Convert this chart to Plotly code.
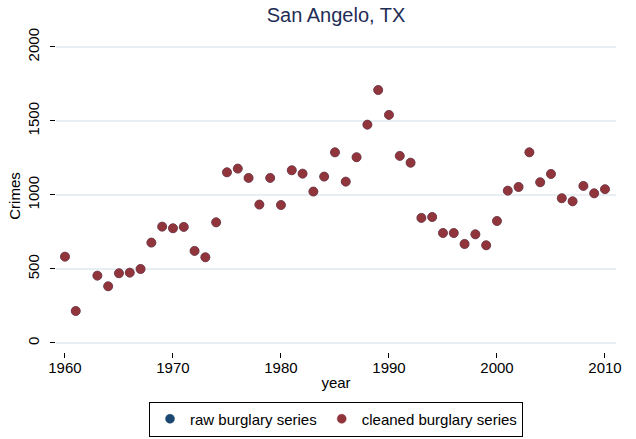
import plotly.graph_objects as go

# --- data ---
years = [1960, 1961, 1963, 1964, 1965, 1966, 1967, 1968, 1969, 1970,
         1971, 1972, 1973, 1974, 1975, 1976, 1977, 1978, 1979, 1980,
         1981, 1982, 1983, 1984, 1985, 1986, 1987, 1988, 1989, 1990,
         1991, 1992, 1993, 1994, 1995, 1996, 1997, 1998, 1999, 2000,
         2001, 2002, 2003, 2004, 2005, 2006, 2007, 2008, 2009, 2010]

cleaned = [583, 216, 455, 383, 471, 475, 500, 678, 786, 775,
           784, 622, 579, 815, 1153, 1178, 1115, 935, 1115, 932,
           1167, 1144, 1023, 1124, 1288, 1090, 1255, 1475, 1709, 1541,
           1264, 1218, 845, 851, 743, 743, 669, 734, 660, 824,
           1029, 1054, 1288, 1086, 1142, 978, 957, 1061, 1011, 1039]

# raw series sits underneath the cleaned one in the picture
raw = [583, 216, 455, 383, 471, 475, 500, 678, 786, 775,
       784, 622, 579, 815, 1153, 1178, 1115, 935, 1115, 932,
       1167, 1144, 1023, 1124, 1288, 1090, 1255, 1475, 1709, 1541,
       1264, 1218, 845, 851, 743, 743, 669, 734, 660, 824,
       1029, 1054, 1288, 1086, 1142, 978, 957, 1061, 1011, 1039]

x_ticks = [1960, 1970, 1980, 1990, 2000, 2010]
y_ticks = [0, 500, 1000, 1500, 2000]

navy = "#1a476f"
maroon = "#90353b"
font = "Liberation Sans, Arial, sans-serif"

fig = go.Figure()
fig.add_trace(go.Scatter(
    x=years, y=raw, mode="markers", name="raw burglary series",
    marker=dict(color=navy, size=9, line=dict(width=0.5, color=navy)),
))
fig.add_trace(go.Scatter(
    x=years, y=cleaned, mode="markers", name="cleaned burglary series",
    marker=dict(color=maroon, size=9, line=dict(width=0.5, color=maroon)),
))

fig.update_layout(
    width=636, height=439,
    margin=dict(l=56, r=20, t=40, b=87),
    paper_bgcolor="white", plot_bgcolor="white",
    font=dict(family=font, color="black", size=15),
    title=dict(text="San Angelo, TX", x=0.5, xref="paper", xanchor="center",
               y=1 - 15 / 439, yref="container", yanchor="middle",
               font=dict(size=20, color="#1f2d56", family=font)),
    showlegend=True,
    legend=dict(orientation="h", x=0.5, xanchor="center", xref="paper",
                y=1 - 419 / 439, yref="container", yanchor="middle",
                bordercolor="black", borderwidth=1, bgcolor="white",
                font=dict(size=15, family=font), itemwidth=30,
                traceorder="normal"),
)

fig.update_xaxes(
    range=[1959.17, 2011.02], tickvals=x_ticks,
    showgrid=False, zeroline=False, showline=False, automargin=False,
    ticks="outside", ticklen=5, tickcolor="black", tickwidth=1,
    tickfont=dict(size=15), ticklabelstandoff=-3,
    title=dict(text="year", font=dict(size=15), standoff=2),
)
fig.update_yaxes(
    range=[-61, 2047], tickvals=y_ticks,
    showgrid=True, gridcolor="#e8eff2", gridwidth=1.5,
    zeroline=False, showline=False, automargin=False,
    ticks="outside", ticklen=5, tickcolor="black", tickwidth=1,
    tickangle=-90, tickfont=dict(size=15), ticklabelstandoff=5,
    title=dict(text="Crimes", font=dict(size=15), standoff=0),
)

# page body has a default 8px margin; drop it so the figure fills the window
fig.write_html("out.html", config={"displayModeBar": False},
               post_script="document.body.style.margin='0';")
